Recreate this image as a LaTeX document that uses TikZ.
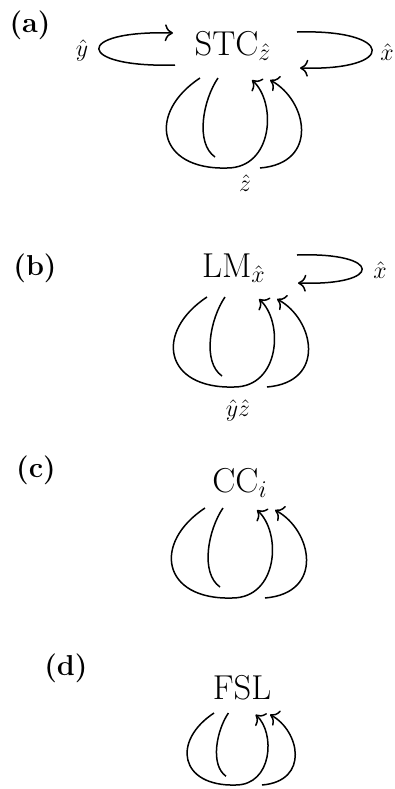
\documentclass[tikz,border=0pt]{standalone}
\usepackage{tikz}
\usetikzlibrary{arrows.meta}
% bundle of self-loops below a state (local frame, y downwards)
\newcommand{\loopbundle}{%
    \draw[arr] (-35,0) .. controls (-88,35) and (-78,92) .. (-8,90)
        .. controls (38,90) and (42,25) .. (17,2);
    \draw[edge] (-17,0) .. controls (-32,22) and (-40,65) .. (-20,79);
    \draw[arr] (25,90) .. controls (85,85) and (72,22) .. (35,2);
}

\begin{document}
\begin{tikzpicture}[
    x=0.5pt, y=-0.5pt,
    state/.style={font=\LARGE, inner sep=0pt, anchor=base},
    panel/.style={font=\Large\bfseries, inner sep=0pt},
    lbl/.style={font=\large, inner sep=0pt},
    edge/.style={line width=0.75pt},
    arr/.style={-{To[scale=1.25]}, line width=0.75pt}
]
\useasboundingbox (0,0) rectangle (395,789);

% (a) STC
\node[panel] (pa) at (30,25) {(a)};
\node[state] (stc) at (233,55) {STC$_{\hat z}$};
\draw[arr] ([shift={(-58,10)}]stc.base) .. controls +(-100,3) and +(-100,-3)
    .. ([shift={(-60,-22)}]stc.base);
\draw[arr] ([shift={(64,-23)}]stc.base) .. controls +(98,-3) and +(98,3)
    .. ([shift={(67,13)}]stc.base);
\begin{scope}[shift={(235,78)}]
    \loopbundle
\end{scope}
\node[lbl] (ya) at (82,50) {$\hat y$};
\node[lbl] (xa) at (387,52) {$\hat x$};
\node[lbl] (za) at (245,183) {$\hat z$};

% (b) LM
\node[panel] (pb) at (35,268) {(b)};
\node[state] (lm) at (234,277) {LM$_{\hat x}$};
\draw[arr] ([shift={(63,-22)}]lm.base) .. controls +(86,-3) and +(86,3)
    .. ([shift={(64,6)}]lm.base);
\begin{scope}[shift={(242,297)}]
    \loopbundle
\end{scope}
\node[lbl] (xb) at (380,270) {$\hat x$};
\node[lbl] (yzb) at (238,410) {$\hat y\hat z$};

% (c) CC
\node[panel] (pc) at (36,470) {(c)};
\node[state] (cc) at (240,492) {CC$_i$};
\begin{scope}[shift={(240,508)}]
    \loopbundle
\end{scope}

% (d) FSL
\node[panel] (pd) at (66,668) {(d)};
\node[state] (fsl) at (242,699) {FSL};
\begin{scope}[shift={(242,713)}, scale=0.8]
    \loopbundle
\end{scope}

\end{tikzpicture}
\end{document}
